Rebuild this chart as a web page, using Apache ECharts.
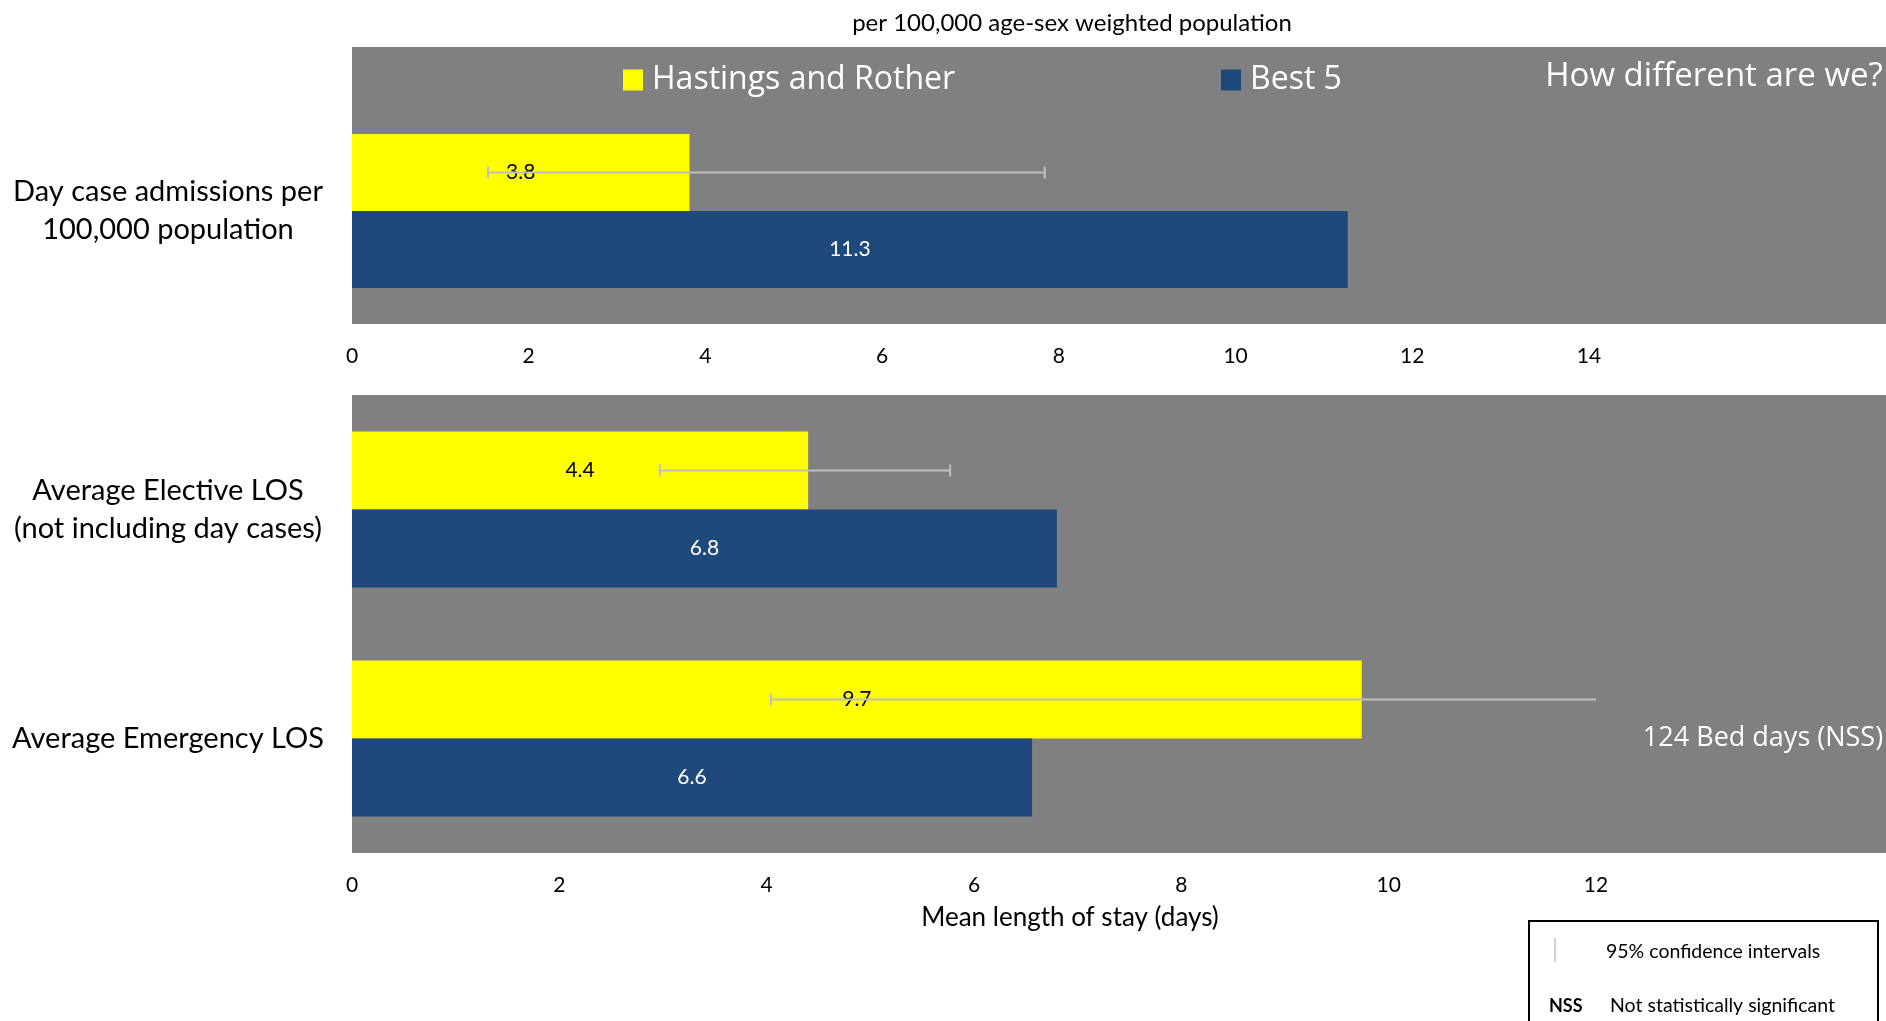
<!DOCTYPE html>
<html>
<head>
<meta charset="utf-8">
<script src="https://cdn.jsdelivr.net/npm/echarts@6/dist/echarts.min.js"></script>
<style>
html,body{margin:0;padding:0;background:#fff;}
#chart{width:1886px;height:1021px;}
</style>
</head>
<body>
<div id="chart"></div>
<script>
// ---- data ----
var topCategories = ['Day case admissions per\n100,000 population'];
var bottomCategories = ['Average Elective LOS\n(not including day cases)', 'Average Emergency LOS'];
var seriesNames = ['Hastings and Rother', 'Best 5'];
var topHastings = [3.82];
var topBest5 = [11.27];
var bottomHastings = [4.4, 9.74];
var bottomBest5 = [6.8, 6.56];
// 95% confidence intervals for Hastings and Rother: [low, high, categoryIndex]
var topCI = [[1.54, 7.84, 0]];
var bottomCI = [[2.97, 5.77, 0], [4.04, 12.6, 1]];
var topTicks = [0, 14, 2];    // min, max, interval
var bottomTicks = [0, 12, 2];

var FONT = 'Lato';
var FONT2 = '"Open Sans"';
var YELLOW = '#FFFF00', BLUE = '#1F497D', GRAY = '#808080', CI_COLOR = '#BFBFBF';

function makeErr(offset) {
  return function (params, api) {
    var cat = api.value(2);
    var lo = api.coord([api.value(0), cat]);
    var hi = api.coord([api.value(1), cat]);
    var cs = params.coordSys;
    var xmax = cs.x + cs.width;
    var y = lo[1] + offset;
    var x1 = lo[0], x2 = Math.min(hi[0], xmax);
    var children = [
      {type: 'line', shape: {x1: x1, y1: y, x2: x2, y2: y}, style: {stroke: CI_COLOR, lineWidth: 2}},
      {type: 'line', shape: {x1: x1, y1: y - 6, x2: x1, y2: y + 6}, style: {stroke: CI_COLOR, lineWidth: 2}}
    ];
    if (hi[0] <= xmax) {
      children.push({type: 'line', shape: {x1: x2, y1: y - 6, x2: x2, y2: y + 6}, style: {stroke: CI_COLOR, lineWidth: 2}});
    }
    return {type: 'group', children: children};
  };
}

function fmt(p) { return Number(p.value).toFixed(1); }

var chart = echarts.init(document.getElementById('chart'));
var option = {
  animation: false,
  backgroundColor: '#fff',
  textStyle: {fontFamily: FONT},
  legend: [
    {data: [seriesNames[0]], left: 623, top: 64, padding: 0, itemWidth: 20, itemHeight: 21, icon: 'rect',
     textStyle: {color: '#fff', fontSize: 32, fontFamily: 'Open Sans', padding: [0, 0, 0, 4]}},
    {data: [seriesNames[1]], left: 1221, top: 64, padding: 0, itemWidth: 20, itemHeight: 21, icon: 'rect',
     textStyle: {color: '#fff', fontSize: 32, fontFamily: 'Open Sans', padding: [0, 0, 0, 4]}}
  ],
  grid: [
    {left: 352, top: 98, width: 1237, height: 226},
    {left: 352, top: 395, width: 1244, height: 458}
  ],
  xAxis: [
    {type: 'value', gridIndex: 0, min: topTicks[0], max: topTicks[1], interval: topTicks[2],
     axisLine: {show: false}, axisTick: {show: false}, splitLine: {show: false},
     axisLabel: {fontSize: 21, color: '#000', margin: 22, fontFamily: FONT}},
    {type: 'value', gridIndex: 1, min: bottomTicks[0], max: bottomTicks[1], interval: bottomTicks[2],
     axisLine: {show: false}, axisTick: {show: false}, splitLine: {show: false},
     axisLabel: {fontSize: 21, color: '#000', margin: 22, fontFamily: FONT}}
  ],
  yAxis: [
    {type: 'category', gridIndex: 0, data: topCategories, inverse: true,
     axisLine: {show: false}, axisTick: {show: false},
     axisLabel: {fontSize: 29, color: '#000', align: 'center', margin: 184, lineHeight: 38, fontFamily: FONT}},
    {type: 'category', gridIndex: 1, data: bottomCategories, inverse: true,
     axisLine: {show: false}, axisTick: {show: false},
     axisLabel: {fontSize: 29, color: '#000', align: 'center', margin: 184, lineHeight: 38, fontFamily: FONT}}
  ],
  series: [
    {name: seriesNames[0], type: 'bar', xAxisIndex: 0, yAxisIndex: 0, data: topHastings, barWidth: 77, barGap: '0%',
     itemStyle: {color: YELLOW}, label: {show: true, position: 'inside', color: '#000', fontSize: 21, formatter: fmt, fontFamily: FONT}},
    {name: seriesNames[1], type: 'bar', xAxisIndex: 0, yAxisIndex: 0, data: topBest5, barWidth: 77, barGap: '0%',
     itemStyle: {color: BLUE}, label: {show: true, position: 'inside', color: '#fff', fontSize: 21, formatter: fmt, fontFamily: FONT}},
    {name: seriesNames[0], type: 'bar', xAxisIndex: 1, yAxisIndex: 1, data: bottomHastings, barWidth: 78, barGap: '0%',
     itemStyle: {color: YELLOW}, label: {show: true, position: 'inside', color: '#000', fontSize: 21, formatter: fmt, fontFamily: FONT}},
    {name: seriesNames[1], type: 'bar', xAxisIndex: 1, yAxisIndex: 1, data: bottomBest5, barWidth: 78, barGap: '0%',
     itemStyle: {color: BLUE}, label: {show: true, position: 'inside', color: '#fff', fontSize: 21, formatter: fmt, fontFamily: FONT}},
    {name: 'CI top', type: 'custom', xAxisIndex: 0, yAxisIndex: 0, data: topCI, renderItem: makeErr(-38.5),
     encode: {x: [0, 1], y: 2}, z: 5, silent: true},
    {name: 'CI bottom', type: 'custom', xAxisIndex: 1, yAxisIndex: 1, data: bottomCI, renderItem: makeErr(-39),
     encode: {x: [0, 1], y: 2}, z: 5, silent: true}
  ],
  graphic: [
    {type: 'rect', z: -10, shape: {x: 352, y: 47, width: 1534, height: 277}, style: {fill: GRAY}},
    {type: 'rect', z: -10, shape: {x: 352, y: 395, width: 1534, height: 458}, style: {fill: GRAY}},
    {type: 'text', z: 100, x: 1072, y: 23, style: {text: 'per 100,000 age-sex weighted population', fill: '#000',
      font: '24px ' + FONT, textAlign: 'center', textVerticalAlign: 'middle'}},
    {type: 'text', z: 100, x: 1714, y: 77, style: {text: 'How different are we?', fill: '#fff',
      font: '33px ' + FONT2, textAlign: 'center', textVerticalAlign: 'middle'}},
    {type: 'text', z: 100, x: 1763, y: 738, style: {text: '124 Bed days (NSS)', fill: '#fff',
      font: '27px ' + FONT2, textAlign: 'center', textVerticalAlign: 'middle'}},
    {type: 'text', z: 100, x: 1070, y: 918, style: {text: 'Mean length of stay (days)', fill: '#000',
      font: '26px ' + FONT, textAlign: 'center', textVerticalAlign: 'middle'}},
    {type: 'rect', z: 100, shape: {x: 1529, y: 921, width: 349, height: 130}, style: {fill: '#fff', stroke: '#000', lineWidth: 2}},
    {type: 'line', z: 101, shape: {x1: 1555, y1: 938, x2: 1555, y2: 962}, style: {stroke: '#A6A6A6', lineWidth: 1}},
    {type: 'text', z: 101, x: 1606, y: 952, style: {text: '95% confidence intervals', fill: '#000',
      font: '19.5px ' + FONT, textAlign: 'left', textVerticalAlign: 'middle'}},
    {type: 'text', z: 101, x: 1549, y: 1006, style: {text: 'NSS', fill: '#000',
      font: 'bold 18px ' + FONT, textAlign: 'left', textVerticalAlign: 'middle'}},
    {type: 'text', z: 101, x: 1610, y: 1006, style: {text: 'Not statistically significant', fill: '#000',
      font: '19.5px ' + FONT, textAlign: 'left', textVerticalAlign: 'middle'}}
  ]
};
chart.setOption(option);
</script>
</body>
</html>
